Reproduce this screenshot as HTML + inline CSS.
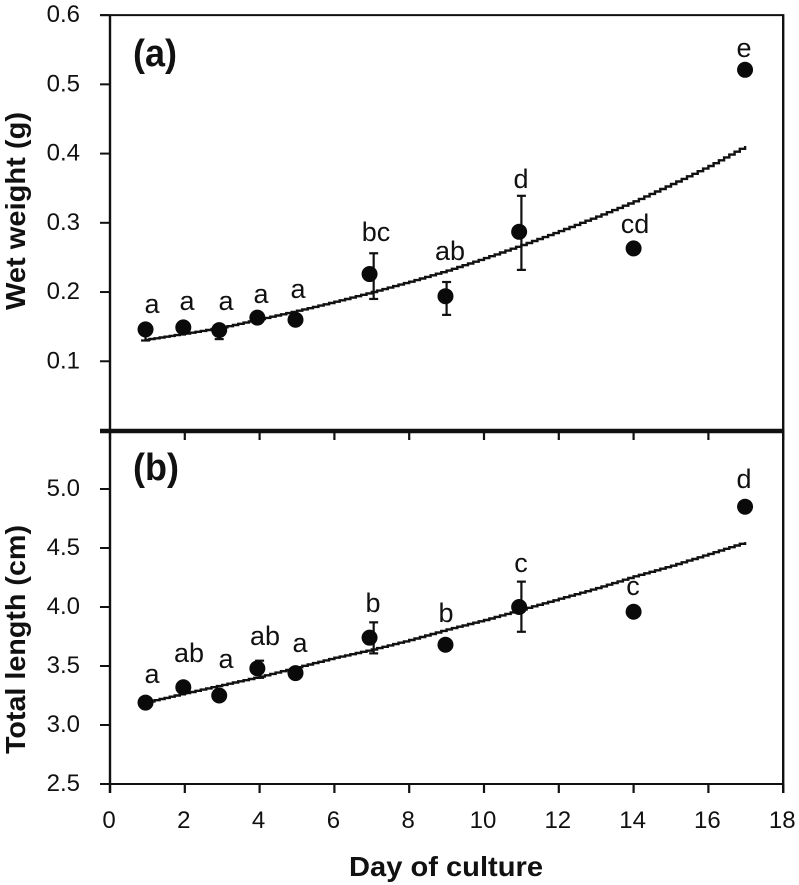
<!DOCTYPE html>
<html lang="en">
<head>
<meta charset="utf-8">
<title>Wet weight and total length by day of culture</title>
<style>
html,body{margin:0;padding:0;background:#fff;}
svg{display:block;}
text{font-family:"Liberation Sans",sans-serif;fill:#111;}
.pt{font-size:27px;text-anchor:middle;}
.tick{font-size:24px;}
.bold{font-weight:bold;}
</style>
</head>
<body>
<svg id="chart" width="799" height="885" viewBox="0 0 799 885" xmlns="http://www.w3.org/2000/svg">
  <rect x="0" y="0" width="799" height="885" fill="#fff"/>
  <g id="frame"></g>
  <g id="fits"></g>
  <g id="errs"></g>
  <g id="points"></g>
  <g id="labels"></g>

  <text class="bold" x="133" y="66" font-size="38" textLength="44" lengthAdjust="spacingAndGlyphs">(a)</text>
  <text class="bold" x="133" y="480" font-size="38" textLength="46" lengthAdjust="spacingAndGlyphs">(b)</text>
  <text class="bold" transform="translate(25,310) rotate(-90)" font-size="28" textLength="198" lengthAdjust="spacingAndGlyphs">Wet weight (g)</text>
  <text class="bold" transform="translate(25,754) rotate(-90)" font-size="28" textLength="229" lengthAdjust="spacingAndGlyphs">Total length (cm)</text>
  <text class="bold" x="349" y="876" font-size="28" textLength="194" lengthAdjust="spacingAndGlyphs">Day of culture</text>

  <g>
    <text class="pt" x="152" y="313">a</text>
    <text class="pt" x="187" y="310">a</text>
    <text class="pt" x="226" y="310">a</text>
    <text class="pt" x="261" y="303">a</text>
    <text class="pt" x="298" y="298">a</text>
    <text class="pt" x="376" y="241">bc</text>
    <text class="pt" x="450" y="260">ab</text>
    <text class="pt" x="521" y="188">d</text>
    <text class="pt" x="635" y="233">cd</text>
    <text class="pt" x="744" y="57">e</text>
  </g>
  <g>
    <text class="pt" x="152" y="683">a</text>
    <text class="pt" x="189" y="662">ab</text>
    <text class="pt" x="226" y="668">a</text>
    <text class="pt" x="265" y="645">ab</text>
    <text class="pt" x="300" y="652">a</text>
    <text class="pt" x="373" y="612">b</text>
    <text class="pt" x="446" y="622">b</text>
    <text class="pt" x="521" y="572">c</text>
    <text class="pt" x="633" y="595">c</text>
    <text class="pt" x="744" y="488">d</text>
  </g>
</svg>
<script>
// ---- Data ----
const xTicks = [0, 2, 4, 6, 8, 10, 12, 14, 16, 18];
const yTicksA = [0.1, 0.2, 0.3, 0.4, 0.5, 0.6];
const yTickLabelsA = ['0.1', '0.2', '0.3', '0.4', '0.5', '0.6'];
const yTicksB = [2.5, 3.0, 3.5, 4.0, 4.5, 5.0];
const yTickLabelsB = ['2.5', '3.0', '3.5', '4.0', '4.5', '5.0'];

const days = [0.95, 1.96, 2.92, 3.94, 4.96, 6.94, 8.97, 10.94, 14.0, 16.98];
const wetWeight = [0.146, 0.149, 0.145, 0.163, 0.160, 0.226, 0.194, 0.287, 0.263, 0.521];
const totalLength = [3.19, 3.32, 3.25, 3.48, 3.44, 3.74, 3.68, 4.00, 3.96, 4.85];

const errDaysA = [0.95, 2.92, 7.05, 9.0, 11.0];
const errLowA = [0.130, 0.132, 0.190, 0.167, 0.232];
const errHighA = [0.152, 0.150, 0.256, 0.2145, 0.339];

const errDaysB = [4.0, 7.05, 11.0];
const errLowB = [3.40, 3.607, 3.79];
const errHighB = [3.545, 3.87, 4.215];

const fitDays = [0.92, 2, 3, 4, 5, 6, 7, 8, 9, 10, 11, 12, 13, 14, 15, 16, 16.98];
const fitWeight = [0.131, 0.140, 0.149, 0.161, 0.173, 0.186, 0.200, 0.215, 0.231, 0.249, 0.268, 0.288, 0.309, 0.331, 0.356, 0.382, 0.411];
const fitLength = [3.19, 3.27, 3.34, 3.41, 3.49, 3.57, 3.64, 3.72, 3.81, 3.89, 3.98, 4.07, 4.16, 4.26, 4.35, 4.45, 4.55];

// ---- Axis functions ----
const xAxis = d => 110 + 37.4 * d;
const yAxisA = v => 430.5 - 692.3 * v;
const yAxisB = v => 784 - 118 * (v - 2.5);

const NS = 'http://www.w3.org/2000/svg';
const INK = '#111';
const mk = (parent, tag) => {
  const el = document.createElementNS(NS, tag);
  document.getElementById(parent).appendChild(el);
  return el;
};
const line = (el, x1, y1, x2, y2, w) => {
  el.setAttribute('x1', x1);
  el.setAttribute('y1', y1);
  el.setAttribute('x2', x2);
  el.setAttribute('y2', y2);
  el.setAttribute('stroke', INK);
  el.setAttribute('stroke-width', w);
};

// ---- Frame ----
const AX_L = xAxis(0), AX_R = xAxis(18), TOP_A = yAxisA(0.6), MID = 431, BOT = yAxisB(2.5);

const leftAxis = mk('frame', 'line');


line(leftAxis, AX_L, TOP_A, AX_L, BOT + 9, 2.4);

const rightAxis = mk('frame', 'line');


line(rightAxis, AX_R, TOP_A - 1, AX_R, BOT + 9, 2.4);

const topBorder = mk('frame', 'line');


line(topBorder, 100, TOP_A, AX_R, TOP_A, 2);

const midBorder = mk('frame', 'line');


line(midBorder, 100, MID, AX_R + 1, MID, 4.6);

const botBorder = mk('frame', 'line');


line(botBorder, 100, BOT, AX_R, BOT, 2);

xTicks.forEach((t, i) => {
  const tickA = mk('frame', 'line');
  
  
  line(tickA, xAxis(t), MID, xAxis(t), MID + 9, 2.2);

  const tickB = mk('frame', 'line');
  
  
  line(tickB, xAxis(t), BOT, xAxis(t), BOT + 9, 2.2);

  const lab = mk('labels', 'text');
  
  
  lab.setAttribute('class', 'tick');
  lab.setAttribute('x', xAxis(t) - 1);
  lab.setAttribute('y', 828);
  lab.setAttribute('text-anchor', 'middle');
  lab.textContent = String(t);
});

yTicksA.forEach((t, i) => {
  const tick = mk('frame', 'line');
  
  
  line(tick, 100, yAxisA(t), AX_L, yAxisA(t), 2);

  const lab = mk('labels', 'text');
  
  
  lab.setAttribute('class', 'tick');
  lab.setAttribute('x', 80);
  lab.setAttribute('y', yAxisA(t) + 7);
  lab.setAttribute('text-anchor', 'end');
  lab.textContent = yTickLabelsA[i];
});

yTicksB.forEach((t, i) => {
  const tick = mk('frame', 'line');
  
  
  line(tick, 100, yAxisB(t), AX_L, yAxisB(t), 2);

  const lab = mk('labels', 'text');
  
  
  lab.setAttribute('class', 'tick');
  lab.setAttribute('x', 80);
  lab.setAttribute('y', yAxisB(t) + 7);
  lab.setAttribute('text-anchor', 'end');
  lab.textContent = yTickLabelsB[i];
});

// ---- Fit curves (drawn with a fine staircase look, as in the source) ----
function stepPath(xs, ys, yAxis) {
  const STEP = 5;
  let d = 'M' + xAxis(xs[0]).toFixed(1) + ' ' + yAxis(ys[0]).toFixed(1);
  for (let i = 1; i < xs.length; i++) {
    const x0 = xAxis(xs[i - 1]), x1 = xAxis(xs[i]);
    const y0 = yAxis(ys[i - 1]), y1 = yAxis(ys[i]);
    const n = Math.max(1, Math.round((x1 - x0) / STEP));
    for (let k = 1; k <= n; k++) {
      d += 'H' + (x0 + (x1 - x0) * k / n).toFixed(1);
      d += 'V' + (y0 + (y1 - y0) * k / n).toFixed(1);
    }
  }
  return d;
}

const fitA = mk('fits', 'path');


fitA.setAttribute('d', stepPath(fitDays, fitWeight, yAxisA));
fitA.setAttribute('fill', 'none');
fitA.setAttribute('stroke', INK);
fitA.setAttribute('stroke-width', 2.4);

const fitB = mk('fits', 'path');


fitB.setAttribute('d', stepPath(fitDays, fitLength, yAxisB));
fitB.setAttribute('fill', 'none');
fitB.setAttribute('stroke', INK);
fitB.setAttribute('stroke-width', 2.4);

// ---- Error bars ----
const CAP = 4.5;
errDaysA.forEach((d, i) => {
  const x = xAxis(d);
  const stem = mk('errs', 'line');
  
  
  line(stem, x, yAxisA(errLowA[i]), x, yAxisA(errHighA[i]), 2.2);

  const capLow = mk('errs', 'line');
  
  
  line(capLow, x - CAP, yAxisA(errLowA[i]), x + CAP, yAxisA(errLowA[i]), 2.2);

  const capHigh = mk('errs', 'line');
  
  
  line(capHigh, x - CAP, yAxisA(errHighA[i]), x + CAP, yAxisA(errHighA[i]), 2.2);
});

errDaysB.forEach((d, i) => {
  const x = xAxis(d);
  const stem = mk('errs', 'line');
  
  
  line(stem, x, yAxisB(errLowB[i]), x, yAxisB(errHighB[i]), 2.2);

  const capLow = mk('errs', 'line');
  
  
  line(capLow, x - CAP, yAxisB(errLowB[i]), x + CAP, yAxisB(errLowB[i]), 2.2);

  const capHigh = mk('errs', 'line');
  
  
  line(capHigh, x - CAP, yAxisB(errHighB[i]), x + CAP, yAxisB(errHighB[i]), 2.2);
});

// ---- Points ----
days.forEach((d, i) => {
  const a = mk('points', 'circle');
  
  
  a.setAttribute('cx', xAxis(d));
  a.setAttribute('cy', yAxisA(wetWeight[i]));
  a.setAttribute('r', 8);
  a.setAttribute('fill', '#0a0a0a');

  const b = mk('points', 'circle');
  
  
  b.setAttribute('cx', xAxis(d));
  b.setAttribute('cy', yAxisB(totalLength[i]));
  b.setAttribute('r', 8);
  b.setAttribute('fill', '#0a0a0a');
});
</script>
</body>
</html>
